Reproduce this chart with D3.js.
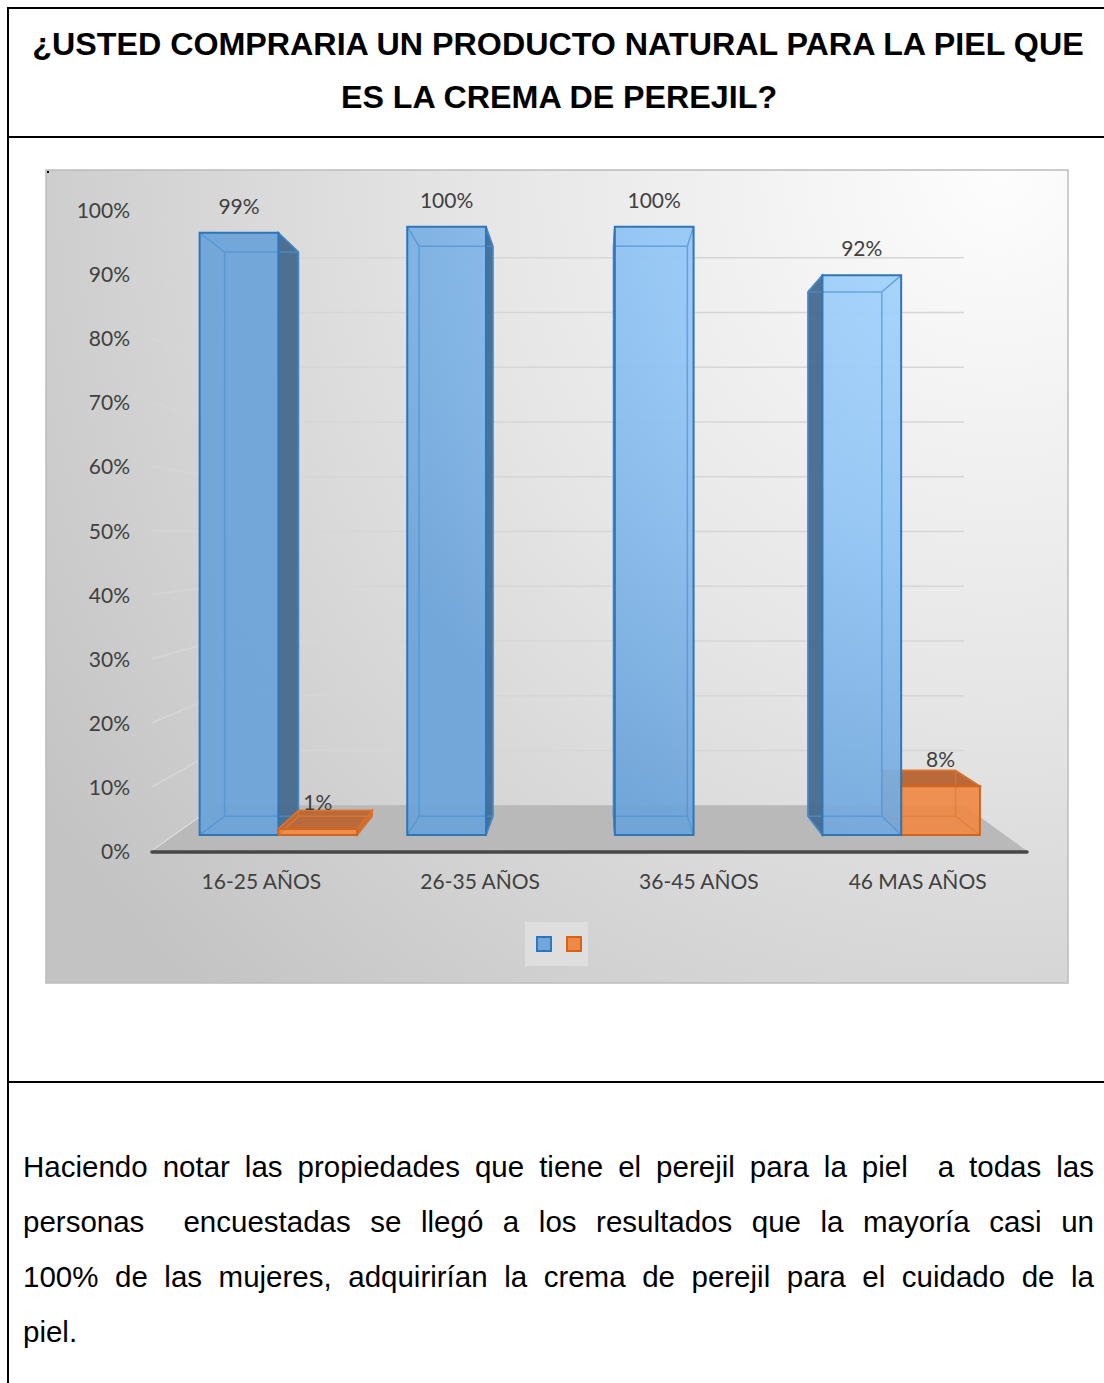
<!DOCTYPE html>
<html lang="es">
<head>
<meta charset="utf-8">
<title>Crema de perejil</title>
<script src="https://d3js.org/d3.v7.min.js"></script>
<style>
  body { margin: 0; background: #fff; }
</style>
</head>
<body>
<script>

// DATOS
var categorias = ["16-25 AÑOS", "26-35 AÑOS", "36-45 AÑOS", "46 MAS AÑOS"];
var series = ["si", "no"];
var valoresSi = [0.99, 1.00, 1.00, 0.92];
var valoresNo = [0.01, null, null, 0.08];
var titulo = ["¿USTED COMPRARIA UN PRODUCTO NATURAL PARA LA PIEL QUE",
              "ES LA CREMA DE PEREJIL?"];
var parrafo = ["Haciendo notar las propiedades que tiene el perejil para la piel  a todas las",
               "personas  encuestadas se llegó a los resultados que la mayoría casi un",
               "100% de las mujeres, adquirirían la crema de perejil para el cuidado de la",
               "piel."];

var W = 1104, H = 1383;
var fuente = "Lato, 'Open Sans', sans-serif";

var svg = d3.select("body").append("svg")
  .attr("width", W).attr("height", H);

var defs = svg.append("defs");

// fondo del grafico
var gFondo = defs.append("radialGradient").attr("id", "fondo")
  .attr("gradientUnits", "userSpaceOnUse")
  .attr("cx", 1000).attr("cy", 175).attr("r", 1150);
gFondo.append("stop").attr("offset", 0).attr("stop-color", "#fdfdfd");
gFondo.append("stop").attr("offset", 0.45).attr("stop-color", "#e6e6e6");
gFondo.append("stop").attr("offset", 1).attr("stop-color", "#c3c3c3");

var gAzul = defs.append("radialGradient").attr("id", "azul")
  .attr("gradientUnits", "userSpaceOnUse")
  .attr("cx", 1010).attr("cy", 190).attr("r", 720);
gAzul.append("stop").attr("offset", 0).attr("stop-color", "#aad9ff");
gAzul.append("stop").attr("offset", 0.5).attr("stop-color", "#92c5f5");
gAzul.append("stop").attr("offset", 1).attr("stop-color", "#6ca3d9");

// MARCO DEL DOCUMENTO
var marco = svg.append("g").attr("stroke", "#000").attr("stroke-width", 2);
marco.append("line").attr("x1", 8).attr("x2", 8).attr("y1", 7).attr("y2", H);
[8, 137, 1082].forEach(function(yy) {
  marco.append("line").attr("x1", 7).attr("x2", W).attr("y1", yy).attr("y2", yy);
});

// TITULO
var tTitulo = svg.append("g")
  .attr("font-family", "'Liberation Sans', Arial, sans-serif")
  .attr("font-weight", "bold")
  .attr("text-anchor", "middle");
var t1 = tTitulo.append("text").attr("x", 558).attr("y", 55)
  .attr("font-size", 30).text(titulo[0]);
var fs = 30 * 1052 / t1.node().getComputedTextLength();
t1.attr("font-size", fs);
tTitulo.append("text").attr("x", 559).attr("y", 108)
  .attr("font-size", fs).text(titulo[1]);

// AREA DEL GRAFICO
svg.append("rect")
  .attr("x", 46).attr("y", 170).attr("width", 1022).attr("height", 813)
  .attr("fill", "url(#fondo)")
  .attr("stroke", "#bcbcbc").attr("stroke-width", 1.5);
svg.append("rect").attr("x", 47).attr("y", 171).attr("width", 2).attr("height", 2).attr("fill", "#000");

// PERSPECTIVA
var VP = {x: 595, y: 537};
var prof = {frente: 1, barFrente: 0.949, barFondo: 0.889, fondo: 0.854};
function proj(px, py, s) {
  return [VP.x + (px - VP.x) * s, VP.y + (py - VP.y) * s];
}
function poli(pts) { return "M" + pts.map(function(p) { return p.join(","); }).join("L") + "Z"; }

// ESCALAS
var x0 = d3.scaleBand().domain(categorias).range([152, 1027]);
var x1 = d3.scaleBand().domain(series).range([0, x0.bandwidth()]).paddingOuter(0.318);
var y = d3.scaleLinear().domain([0, 1]).range([851, 210]);
var fmt = d3.format(".0%");
var ticks = y.ticks(10);

var xl = x0.range()[0], xr = x0.range()[1];

// paredes: lineas de cuadricula
var grid = svg.append("g").attr("stroke", "#d6d6d6").attr("stroke-width", 1.5).attr("fill", "none");
ticks.filter(function(t) { return t > 0; }).forEach(function(t) {
  var a = [xl, y(t)], b = proj(xl, y(t), prof.fondo), c = proj(xr, y(t), prof.fondo);
  grid.append("path").attr("d", "M" + a + "L" + b + "L" + c);
});
grid.append("path").attr("d", "M" + [xl, y(0)] + "L" + proj(xl, y(0), prof.fondo))
  .attr("stroke", "#ececec");

// piso
svg.append("path")
  .attr("d", poli([[xl, y(0)], [xr, y(0)], proj(xr, y(0), prof.fondo), proj(xl, y(0), prof.fondo)]))
  .attr("fill", "#b9b9b9");

// BARRAS
var barras = [];
categorias.forEach(function(c, i) {
  [["si", valoresSi[i]], ["no", valoresNo[i]]].forEach(function(p) {
    if (p[1] == null) return;
    var a = x0(c) + x1(p[0]), b = a + x1.bandwidth();
    barras.push({cat: c, serie: p[0], v: p[1], x0: a, x1: b,
                 dist: Math.abs((a + b) / 2 - VP.x)});
  });
});
barras.sort(function(a, b) { return b.dist - a.dist; });

var estilo = {
  si: {front: "url(#azul)", side: "#46698e", top: "#4a76a3", stroke: "#2f76b8", inner: "#4d92d2"},
  no: {front: "#ef8a46", side: "#c7692e", top: "#b9693a", stroke: "#d5641b", inner: "#e07a36"}
};

var gB = svg.append("g");
barras.forEach(function(d) {
  var st = estilo[d.serie];
  var yt = y(d.v), yb = y(0);
  var F = [proj(d.x0, yt, prof.barFrente), proj(d.x1, yt, prof.barFrente),
           proj(d.x1, yb, prof.barFrente), proj(d.x0, yb, prof.barFrente)];
  var B = [proj(d.x0, yt, prof.barFondo), proj(d.x1, yt, prof.barFondo),
           proj(d.x1, yb, prof.barFondo), proj(d.x0, yb, prof.barFondo)];
  var g = gB.append("g");

  // caras laterales visibles
  if (d.x1 < VP.x) {
    g.append("path").attr("d", poli([F[1], B[1], B[2], F[2]]))
      .attr("fill", st.side).attr("fill-opacity", 0.95)
      .attr("stroke", st.stroke).attr("stroke-width", 1.5);
  } else if (d.x0 > VP.x) {
    g.append("path").attr("d", poli([F[0], B[0], B[3], F[3]]))
      .attr("fill", st.side).attr("fill-opacity", 0.95)
      .attr("stroke", st.stroke).attr("stroke-width", 1.5);
  }
  if (yt > VP.y) {
    g.append("path").attr("d", poli([F[0], F[1], B[1], B[0]]))
      .attr("fill", st.top).attr("stroke", st.stroke).attr("stroke-width", 1.5);
  }
  // cara frontal
  g.append("path").attr("d", poli(F))
    .attr("fill", st.front).attr("fill-opacity", 0.93);
  // aristas interiores (transparencia)
  var inner = poli(B) + "M" + F[0] + "L" + B[0] + "M" + F[1] + "L" + B[1] +
              "M" + F[2] + "L" + B[2] + "M" + F[3] + "L" + B[3];
  g.append("path").attr("d", inner).attr("fill", "none")
    .attr("stroke", st.inner).attr("stroke-width", 1.5).attr("stroke-opacity", 0.7);
  g.append("path").attr("d", poli(F)).attr("fill", "none")
    .attr("stroke", st.stroke).attr("stroke-width", 2);

  // etiqueta de datos
  svg.append("text")
    .attr("x", (F[0][0] + F[1][0]) / 2)
    .attr("y", F[0][1] - 19)
    .attr("text-anchor", "middle")
    .attr("font-family", fuente).attr("font-size", 21)
    .attr("fill", "#404040")
    .text(fmt(d.v));
});

// eje horizontal
svg.append("line")
  .attr("x1", xl).attr("x2", xr).attr("y1", y(0) + 1).attr("y2", y(0) + 1)
  .attr("stroke", "#474747").attr("stroke-width", 3.5).attr("stroke-linecap", "round");

// etiquetas del eje Y
svg.append("g").selectAll("text")
  .data(ticks).enter().append("text")
  .attr("x", 130)
  .attr("y", function(d) { return y(d) + 8; })
  .attr("text-anchor", "end")
  .attr("font-family", fuente).attr("font-size", 21)
  .attr("fill", "#404040")
  .text(function(d) { return fmt(d); });

// etiquetas de categorias
svg.append("g").selectAll("text")
  .data(categorias).enter().append("text")
  .attr("x", function(d) { return x0(d) + x0.bandwidth() / 2; })
  .attr("y", 889)
  .attr("text-anchor", "middle")
  .attr("font-family", fuente).attr("font-size", 21)
  .attr("fill", "#404040")
  .text(function(d) { return d; });

// LEYENDA
var ley = svg.append("g");
ley.append("rect").attr("x", 525).attr("y", 922).attr("width", 63).attr("height", 44)
  .attr("fill", "#dedede");
series.forEach(function(s, i) {
  ley.append("rect")
    .attr("x", 537 + i * 30).attr("y", 937).attr("width", 14).attr("height", 14)
    .attr("fill", s == "si" ? "#70a7de" : "#ee8a45")
    .attr("stroke", estilo[s].stroke).attr("stroke-width", 2);
});

// PARRAFO JUSTIFICADO
var pIzq = 23, pDer = 1094;
var tp = svg.append("g")
  .attr("font-family", "'Liberation Sans', Arial, sans-serif")
  .attr("font-size", 29.5).attr("fill", "#000");
parrafo.forEach(function(linea, i) {
  var yy = 1177 + i * 55;
  var txt = tp.append("text").attr("y", yy);
  if (i == parrafo.length - 1) {
    txt.attr("x", pIzq).text(linea);
    return;
  }
  var palabras = linea.split(" ");
  var anchos = palabras.map(function(w) {
    var m = tp.append("text").text(w);
    var a = m.node().getComputedTextLength();
    m.remove();
    return a;
  });
  var hueco = (pDer - pIzq - d3.sum(anchos)) / (palabras.length - 1);
  var xx = pIzq;
  palabras.forEach(function(w, k) {
    if (w.length) txt.append("tspan").attr("x", xx).text(w);
    xx += anchos[k] + hueco;
  });
});

</script>
</body>
</html>
